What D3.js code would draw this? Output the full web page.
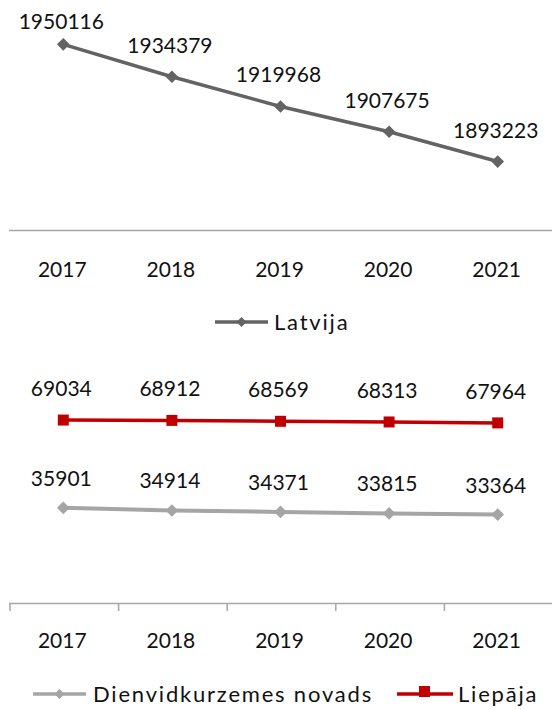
<!DOCTYPE html>
<html><head><meta charset="utf-8">
<script src="https://cdn.jsdelivr.net/npm/d3@7"></script>
<style>
html,body{margin:0;padding:0;background:#fff;}
svg{display:block;font-family:Lato,"Noto Sans",sans-serif;}
</style></head>
<body><svg id="c" width="552" height="710"></svg>
<script>
const years = ["2017","2018","2019","2020","2021"];
const latvija = [1950116, 1934379, 1919968, 1907675, 1893223];
const liepaja = [69034, 68912, 68569, 68313, 67964];
const dienvid = [35901, 34914, 34371, 33815, 33364];

const svg = d3.select("#c");
const x = d3.scaleBand().domain(years).range([9, 552]).padding(0);
const cx = d => x(d) + x.bandwidth()/2;

const yTop = d3.scaleLinear().domain([1860000, 1960000]).range([230, 24]);
const yBot = d3.scaleLinear().domain([0, 80000]).range([603, 391]);

const fs = 21;

function drawSeries(vals, y, color, width, diamond, msize, labelOff, minBase) {
  const g = svg.append("g");
  const line = d3.line().x((d,i)=>cx(years[i])).y(d=>y(d));
  g.append("path").attr("d", line(vals)).attr("fill","none")
    .attr("stroke",color).attr("stroke-width",width).attr("stroke-linejoin","round");
  const sym = d3.symbol().type(d3.symbolSquare).size(msize);
  g.selectAll("path.m").data(vals).join("path").attr("class","m")
    .attr("d", sym)
    .attr("transform",(d,i)=>`translate(${cx(years[i])},${y(d)})` + (diamond?" rotate(45)":""))
    .attr("fill",color);
  g.selectAll("text").data(vals).join("text")
    .attr("x",(d,i)=>cx(years[i]) - 2)
    .attr("y",d=>Math.max(minBase, y(d) - labelOff))
    .attr("text-anchor","middle").attr("font-size",fs).attr("fill","#111")
    .text(d=>d);
}

// top panel axis
svg.append("line").attr("x1",9).attr("x2",552).attr("y1",230.5).attr("y2",230.5)
  .attr("stroke","#a6a6a6").attr("stroke-width",1.5);
svg.append("g").selectAll("text").data(years).join("text")
  .attr("x",d=>cx(d)-1).attr("y",277).attr("text-anchor","middle")
  .attr("font-size",fs).attr("fill","#111").text(d=>d);

drawSeries(latvija, yTop, "#636363", 3.5, true, 80, 24, 29);

// top legend
const lg1 = svg.append("g");
lg1.append("line").attr("x1",215).attr("x2",268).attr("y1",322).attr("y2",322).attr("stroke","#636363").attr("stroke-width",3.5);
lg1.append("path").attr("d",d3.symbol().type(d3.symbolSquare).size(50)).attr("transform","translate(241.5,322) rotate(45)").attr("fill","#636363");
lg1.append("text").attr("x",274).attr("y",330).attr("font-size",22).attr("fill","#111").attr("letter-spacing",1.8).text("Latvija");

// bottom panel axis
const bounds = years.map(d=>x(d));
svg.append("line").attr("x1",9).attr("x2",552).attr("y1",603.5).attr("y2",603.5)
  .attr("stroke","#a6a6a6").attr("stroke-width",1.5);
svg.append("g").selectAll("line").data(bounds).join("line")
  .attr("x1",d=>d+1).attr("x2",d=>d+1).attr("y1",603).attr("y2",611)
  .attr("stroke","#a6a6a6").attr("stroke-width",1.5);
svg.append("g").selectAll("text").data(years).join("text")
  .attr("x",d=>cx(d)-1).attr("y",648).attr("text-anchor","middle")
  .attr("font-size",fs).attr("fill","#111").text(d=>d);

drawSeries(liepaja, yBot, "#c00000", 3.5, false, 121, 24, 0);
drawSeries(dienvid, yBot, "#a5a5a5", 4, true, 80, 22, 0);

// bottom legend
const lg2 = svg.append("g");
lg2.append("line").attr("x1",33).attr("x2",86).attr("y1",694).attr("y2",694).attr("stroke","#a5a5a5").attr("stroke-width",3.5);
lg2.append("path").attr("d",d3.symbol().type(d3.symbolSquare).size(50)).attr("transform","translate(59.5,694) rotate(45)").attr("fill","#a5a5a5");
lg2.append("text").attr("x",93).attr("y",702).attr("font-size",22).attr("fill","#111").attr("letter-spacing",1.8).text("Dienvidkurzemes novads");
lg2.append("line").attr("x1",397).attr("x2",453).attr("y1",694).attr("y2",694).attr("stroke","#c00000").attr("stroke-width",3.5);
lg2.append("rect").attr("x",419).attr("y",686).attr("width",11).attr("height",11).attr("fill","#c00000");
lg2.append("text").attr("x",458).attr("y",702).attr("font-size",22).attr("fill","#111").attr("letter-spacing",1.8).text("Liepāja");
</script></body></html>
